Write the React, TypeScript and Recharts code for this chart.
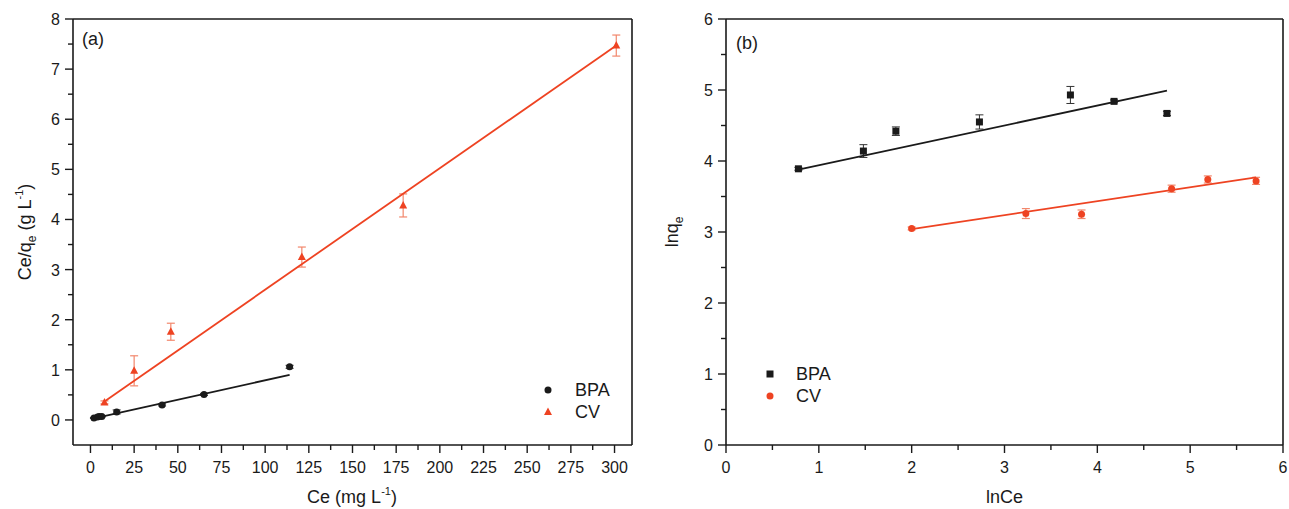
import React from "react";
import {
  ComposedChart,
  Scatter,
  XAxis,
  YAxis,
  ErrorBar,
  ReferenceLine,
  Legend,
  Label,
} from "recharts";

// panel (a): linear Langmuir plot Ce/qe vs Ce
const bpaCe = [2, 4, 5, 6.5, 15, 41, 65, 114];
const bpaCeQe = [0.04, 0.06, 0.07, 0.07, 0.16, 0.3, 0.51, 1.06];
const bpaCeQeErr = [0.01, 0.01, 0.01, 0.01, 0.04, 0.02, 0.02, 0.03];
const cvCe = [8, 25, 46, 121, 179, 301];
const cvCeQe = [0.35, 0.98, 1.76, 3.25, 4.28, 7.47];
const cvCeQeErr = [0.03, 0.3, 0.17, 0.2, 0.23, 0.21];
const bpaFitA = { x: [2, 114], y: [0.03, 0.9] };
const cvFitA = { x: [8, 301], y: [0.37, 7.47] };

// panel (b): Freundlich plot lnqe vs lnCe
const bpaLnCe = [0.78, 1.48, 1.83, 2.73, 3.71, 4.18, 4.75];
const bpaLnQe = [3.89, 4.14, 4.42, 4.55, 4.93, 4.84, 4.67];
const bpaLnQeErr = [0.02, 0.09, 0.06, 0.1, 0.12, 0.02, 0.03];
const cvLnCe = [2.0, 3.23, 3.83, 4.8, 5.19, 5.71];
const cvLnQe = [3.05, 3.26, 3.25, 3.61, 3.74, 3.72];
const cvLnQeErr = [0.02, 0.07, 0.06, 0.05, 0.05, 0.05];
const bpaFitB = { x: [0.78, 4.75], y: [3.88, 4.99] };
const cvFitB = { x: [2.0, 5.71], y: [3.04, 3.77] };

const ceTicks = [0, 12.5, 25, 37.5, 50, 62.5, 75, 87.5, 100, 112.5, 125, 137.5, 150, 162.5, 175, 187.5, 200, 212.5, 225, 237.5, 250, 262.5, 275, 287.5, 300];
const ceQeTicks = [0, 0.5, 1, 1.5, 2, 2.5, 3, 3.5, 4, 4.5, 5, 5.5, 6, 6.5, 7, 7.5, 8];
const lnTicks = [0, 0.5, 1, 1.5, 2, 2.5, 3, 3.5, 4, 4.5, 5, 5.5, 6];

const FONT = '"Liberation Sans", Arial, sans-serif';
const INK = "#1a1a1a";
const RED = "#ee4322";
const RED_ERR = "#f2876c";
const axisStyle = { stroke: INK, strokeWidth: 1.6 };

const pts = (xs: number[], ys: number[], es?: number[]) =>
  xs.map((x, i) => ({ x, y: ys[i], err: es ? es[i] : 0 }));

function BottomTick(props: any) {
  const { x, y, payload, isMajor } = props;
  const major = isMajor(payload.value);
  return (
    <g>
      <line x1={x} y1={y} x2={x} y2={y + (major ? 8 : 5)} stroke={INK} strokeWidth={1.4} />
      {major && (
        <text x={x} y={y + 28} textAnchor="middle" fontSize={16} fontFamily={FONT} fill={INK}>
          {payload.value}
        </text>
      )}
    </g>
  );
}

function LeftTick(props: any) {
  const { x, y, payload, isMajor } = props;
  const major = isMajor(payload.value);
  return (
    <g>
      <line x1={x} y1={y} x2={x - (major ? 8 : 5)} y2={y} stroke={INK} strokeWidth={1.4} />
      {major && (
        <text x={x - 13} y={y + 6} textAnchor="end" fontSize={16} fontFamily={FONT} fill={INK}>
          {payload.value}
        </text>
      )}
    </g>
  );
}

const Circle = (color: string, r = 3.5) => (p: any) => <circle cx={p.cx} cy={p.cy} r={r} fill={color} />;
const Tri = (color: string) => (p: any) => (
  <polygon points={`${p.cx},${p.cy - 4.5} ${p.cx - 4},${p.cy + 3} ${p.cx + 4},${p.cy + 3}`} fill={color} />
);
const Sq = (color: string) => (p: any) => <rect x={p.cx - 3.5} y={p.cy - 3.5} width={7} height={7} fill={color} />;
const NoShape = () => <g />;

function LegendBox({ items, gap }: { items: { name: string; marker: React.ReactNode }[]; gap: number }) {
  return (
    <div style={{ fontFamily: FONT, fontSize: 18, color: INK, lineHeight: "22px" }}>
      {items.map((it) => (
        <div key={it.name} style={{ display: "flex", alignItems: "center", height: 22 }}>
          <svg width={22} height={22}>{it.marker}</svg>
          <span style={{ marginLeft: gap }}>{it.name}</span>
        </div>
      ))}
    </div>
  );
}

function PanelA() {
  return (
    <ComposedChart width={645} height={509} margin={{ top: 19, right: 13, bottom: 0, left: 0 }}>
      <XAxis
        type="number"
        dataKey="x"
        domain={[-10, 310]}
        ticks={ceTicks}
        interval={0}
        allowDataOverflow
        tickSize={0}
        tickMargin={0}
        tickLine={false}
        axisLine={axisStyle}
        height={64}
        tick={(p: any) => <BottomTick {...p} isMajor={(v: number) => v % 25 === 0} />}
        label={
          <Label
            content={() => (
              <text x={352} y={503} textAnchor="middle" fontSize={18} fontFamily={FONT} fill={INK}>
                Ce (mg L<tspan fontSize={11} dy={-8}>-1</tspan>
                <tspan dy={8}>)</tspan>
              </text>
            )}
          />
        }
      />
      <YAxis
        type="number"
        dataKey="y"
        domain={[-0.5, 8]}
        ticks={ceQeTicks}
        interval={0}
        allowDataOverflow
        tickSize={0}
        tickMargin={0}
        tickLine={false}
        axisLine={axisStyle}
        width={73}
        tick={(p: any) => <LeftTick {...p} isMajor={(v: number) => Number.isInteger(v)} />}
        label={
          <Label
            content={() => (
              <text
                x={31}
                y={232}
                transform="rotate(-90 31 232)"
                textAnchor="middle"
                fontSize={18}
                fontFamily={FONT}
                fill={INK}
              >
                Ce/q<tspan fontSize={12} dy={5}>e</tspan>
                <tspan dy={-5}> (g L</tspan>
                <tspan fontSize={11} dy={-8}>-1</tspan>
                <tspan dy={8}>)</tspan>
              </text>
            )}
          />
        }
      />
      <ReferenceLine y={8} stroke={INK} strokeWidth={1.6} />
      <ReferenceLine x={310} stroke={INK} strokeWidth={1.6} />
      <Scatter data={pts(bpaFitA.x, bpaFitA.y)} line={{ stroke: INK, strokeWidth: 1.8 }} shape={NoShape} isAnimationActive={false} legendType="none" />
      <Scatter data={pts(cvFitA.x, cvFitA.y)} line={{ stroke: RED, strokeWidth: 1.8 }} shape={NoShape} isAnimationActive={false} legendType="none" />
      <Scatter data={pts(bpaCe, bpaCeQe, bpaCeQeErr)} shape={Circle(INK)} isAnimationActive={false}>
        <ErrorBar dataKey="err" direction="y" width={4} stroke="#333" strokeWidth={1} />
      </Scatter>
      <Scatter data={pts(cvCe, cvCeQe, cvCeQeErr)} shape={Tri(RED)} isAnimationActive={false}>
        <ErrorBar dataKey="err" direction="y" width={4} stroke={RED_ERR} strokeWidth={1.2} />
      </Scatter>
      <Text x={82} y={45} label="(a)" />
      <Legend
        layout="horizontal"
        verticalAlign="middle"
        align="center"
        wrapperStyle={{ left: 537, top: 379, width: 120 }}
        content={() => (
          <LegendBox
            gap={16}
            items={[
              { name: "BPA", marker: <circle cx={11} cy={11} r={3.5} fill={INK} /> },
              { name: "CV", marker: <polygon points="11,6.5 7,14 15,14" fill={RED} /> },
            ]}
          />
        )}
      />
    </ComposedChart>
  );
}

function Text({ x, y, label }: { x: number; y: number; label: string }) {
  return (
    <text x={x} y={y} fontSize={18} fontFamily={FONT} fill={INK}>
      {label}
    </text>
  );
}

function PanelB() {
  return (
    <ComposedChart width={644} height={509} margin={{ top: 19, right: 6, bottom: 0, left: 0 }}>
      <XAxis
        type="number"
        dataKey="x"
        domain={[0, 6]}
        ticks={lnTicks}
        interval={0}
        allowDataOverflow
        tickSize={0}
        tickMargin={0}
        tickLine={false}
        axisLine={axisStyle}
        height={64}
        tick={(p: any) => <BottomTick {...p} isMajor={(v: number) => Number.isInteger(v)} />}
        label={
          <Label
            content={() => (
              <text x={359.5} y={503} textAnchor="middle" fontSize={18} fontFamily={FONT} fill={INK}>
                lnCe
              </text>
            )}
          />
        }
      />
      <YAxis
        type="number"
        dataKey="y"
        domain={[0, 6]}
        ticks={lnTicks}
        interval={0}
        allowDataOverflow
        tickSize={0}
        tickMargin={0}
        tickLine={false}
        axisLine={axisStyle}
        width={81}
        tick={(p: any) => <LeftTick {...p} isMajor={(v: number) => Number.isInteger(v)} />}
        label={
          <Label
            content={() => (
              <text
                x={33}
                y={232}
                transform="rotate(-90 33 232)"
                textAnchor="middle"
                fontSize={18}
                fontFamily={FONT}
                fill={INK}
              >
                lnq<tspan fontSize={12} dy={5}>e</tspan>
              </text>
            )}
          />
        }
      />
      <ReferenceLine y={6} stroke={INK} strokeWidth={1.6} />
      <ReferenceLine x={6} stroke={INK} strokeWidth={1.6} />
      <Scatter data={pts(bpaFitB.x, bpaFitB.y)} line={{ stroke: INK, strokeWidth: 1.8 }} shape={NoShape} isAnimationActive={false} legendType="none" />
      <Scatter data={pts(cvFitB.x, cvFitB.y)} line={{ stroke: RED, strokeWidth: 1.8 }} shape={NoShape} isAnimationActive={false} legendType="none" />
      <Scatter data={pts(bpaLnCe, bpaLnQe, bpaLnQeErr)} shape={Sq(INK)} isAnimationActive={false}>
        <ErrorBar dataKey="err" direction="y" width={4} stroke="#333" strokeWidth={1} />
      </Scatter>
      <Scatter data={pts(cvLnCe, cvLnQe, cvLnQeErr)} shape={Circle(RED)} isAnimationActive={false}>
        <ErrorBar dataKey="err" direction="y" width={4} stroke={RED_ERR} strokeWidth={1.2} />
      </Scatter>
      <Text x={91} y={49} label="(b)" />
      <Legend
        layout="horizontal"
        verticalAlign="middle"
        align="center"
        wrapperStyle={{ left: 114, top: 363, width: 120 }}
        content={() => (
          <LegendBox
            gap={15}
            items={[
              { name: "BPA", marker: <rect x={7.5} y={7.5} width={7} height={7} fill={INK} /> },
              { name: "CV", marker: <circle cx={11} cy={11} r={3.5} fill={RED} /> },
            ]}
          />
        )}
      />
    </ComposedChart>
  );
}

export default function App() {
  return (
    <div style={{ position: "absolute", left: 0, top: 0, width: 1289, height: 509, background: "#fff" }}>
      <div style={{ position: "absolute", left: 0, top: 0 }}>
        <PanelA />
      </div>
      <div style={{ position: "absolute", left: 645, top: 0 }}>
        <PanelB />
      </div>
    </div>
  );
}
